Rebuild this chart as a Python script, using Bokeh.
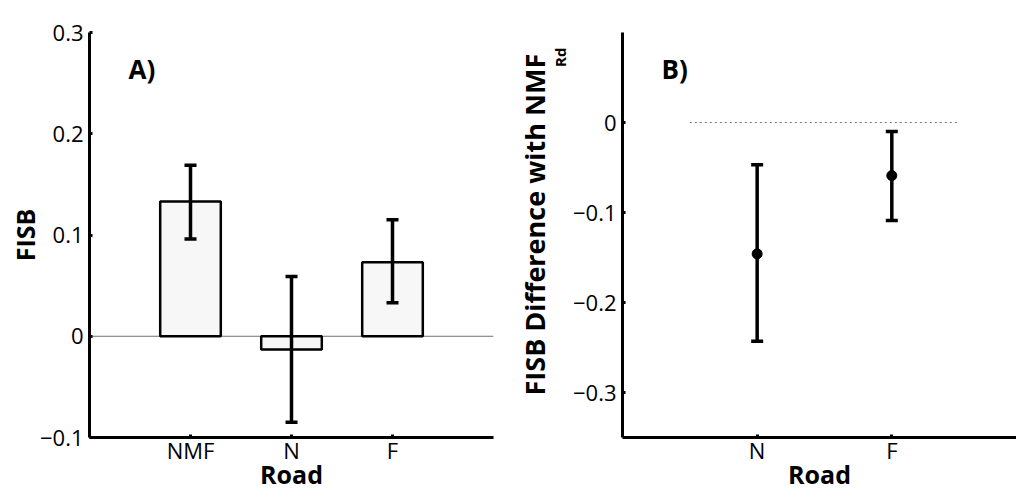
from bokeh.plotting import figure
from bokeh.models import Range1d, FixedTicker, Whisker, TeeHead, ColumnDataSource, Label, Title
from bokeh.layouts import row
from bokeh.embed import file_html
from bokeh.resources import INLINE

# ---- data (panel A) ----
categories_a = ["NMF", "N", "F"]
fisb_mean = [0.133, -0.013, 0.073]
fisb_upper = [0.169, 0.059, 0.115]
fisb_lower = [0.096, -0.085, 0.033]
yticks_a = [-0.1, 0.0, 0.1, 0.2, 0.3]
ylabels_a = ["\u22120.1", "0", "0.1", "0.2", "0.3"]

# ---- data (panel B) ----
categories_b = ["N", "F"]
diff_mean = [-0.146, -0.059]
diff_upper = [-0.047, -0.010]
diff_lower = [-0.243, -0.109]
yticks_b = [-0.3, -0.2, -0.1, 0.0]
ylabels_b = ["\u22120.3", "\u22120.2", "\u22120.1", "0"]

FONT = "Open Sans"
TICK_SIZE = "22px"
LABEL_SIZE = "25px"


def style(p, xticks, xlabels, yticks, ylabels):
    p.xgrid.visible = False
    p.ygrid.visible = False
    p.outline_line_color = None
    for ax in (p.xaxis[0], p.yaxis[0]):
        ax.axis_line_width = 3
        ax.axis_line_color = "black"
        ax.major_tick_in = 3
        ax.major_tick_out = 0
        ax.major_tick_line_width = 3
        ax.minor_tick_line_color = None
        ax.major_label_text_font = FONT
        ax.major_label_text_font_size = TICK_SIZE
        ax.major_label_text_color = "black"
        ax.axis_label_text_font = FONT
        ax.axis_label_text_font_size = LABEL_SIZE
        ax.axis_label_text_font_style = "bold"
        ax.axis_label_text_color = "black"
    p.xaxis[0].major_label_standoff = -3
    p.xaxis[0].axis_label_standoff = -11
    p.yaxis[0].major_label_standoff = 6
    p.yaxis[0].axis_label_standoff = -5
    p.xaxis[0].ticker = FixedTicker(ticks=xticks)
    p.xaxis[0].major_label_overrides = {t: l for t, l in zip(xticks, xlabels)}
    p.yaxis[0].ticker = FixedTicker(ticks=yticks)
    p.yaxis[0].major_label_overrides = {t: l for t, l in zip(yticks, ylabels)}


def add_label(p, x, y, text):
    p.add_layout(Label(x=x, y=y, text=text, text_align="left",
                       text_baseline="alphabetic", text_font=FONT,
                       text_font_size="26px", text_font_style="bold",
                       text_color="black"))


# ================= Panel A =================
xa = [i + 1 for i in range(len(categories_a))]
src_a = ColumnDataSource(dict(x=xa, top=fisb_mean, upper=fisb_upper, lower=fisb_lower))

pa = figure(width=508, height=494, x_range=Range1d(0, 4), y_range=Range1d(-0.1, 0.3),
            output_backend="svg", toolbar_location=None,
            min_border_left=89, min_border_right=15, min_border_top=32, min_border_bottom=57)
pa.line(x=[0, 4], y=[0, 0], line_color="#707070", line_width=1)
pa.vbar(x="x", top="top", bottom=0, width=0.6, source=src_a,
        fill_color="#f7f7f7", line_color="black", line_width=2.5)
pa.add_layout(Whisker(base="x", upper="upper", lower="lower", source=src_a,
                      dimension="height", line_width=3.5, line_color="black",
                      upper_head=TeeHead(size=12, line_width=3.5, line_color="black"),
                      lower_head=TeeHead(size=12, line_width=3.5, line_color="black"),
                      level="annotation"))
style(pa, xa, categories_a, yticks_a, ylabels_a)
pa.xaxis[0].axis_label = "Road"
pa.yaxis[0].axis_label = "FISB"
add_label(pa, 0.386, 0.2635, "A)")

# ================= Panel B =================
xb = [i + 1 for i in range(len(categories_b))]
src_b = ColumnDataSource(dict(x=xb, y=diff_mean, upper=diff_upper, lower=diff_lower))

pb = figure(width=508, height=494, x_range=Range1d(0, 2.926), y_range=Range1d(-0.35, 0.1),
            output_backend="svg", toolbar_location=None,
            min_border_left=114, min_border_right=0, min_border_top=32, min_border_bottom=57)
pb.line(x=[0.5, 2.5], y=[0, 0], line_color="#777777", line_width=1.2, line_dash="2 3")
pb.add_layout(Whisker(base="x", upper="upper", lower="lower", source=src_b,
                      dimension="height", line_width=3.5, line_color="black",
                      upper_head=TeeHead(size=12, line_width=3.5, line_color="black"),
                      lower_head=TeeHead(size=12, line_width=3.5, line_color="black"),
                      level="glyph"))
pb.scatter(x="x", y="y", source=src_b, size=10, color="black", level="annotation")
style(pb, xb, categories_b, yticks_b, ylabels_b)
pb.xaxis[0].axis_label = "Road"
add_label(pb, 0.29, 0.06, "B)")
# y-axis title with subscript: subscript (inner) + main text (outer)
pb.add_layout(Title(text="Rd", align="right", offset=15, standoff=0,
                    text_font=FONT, text_font_size="15px", text_font_style="bold",
                    text_color="black"), "left")
pb.add_layout(Title(text="FISB Difference with NMF", align="left", offset=42, standoff=-11,
                    text_font=FONT, text_font_size="27px", text_font_style="bold",
                    text_color="black"), "left")

layout = row(pa, pb)
open("out.html", "w").write(file_html(layout, INLINE))
